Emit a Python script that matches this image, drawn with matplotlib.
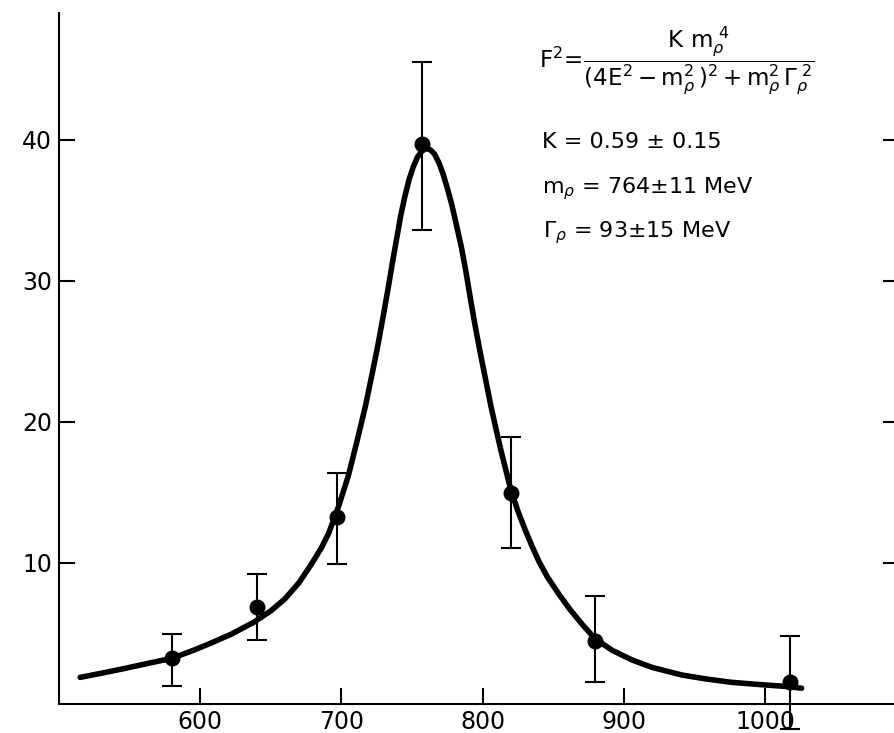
import numpy as np
import matplotlib
matplotlib.use('Agg')
import matplotlib.pyplot as plt

plt.rcParams['font.family'] = ['DejaVu Sans']
plt.rcParams['mathtext.fontset'] = 'dejavusans'

# measured points: energy (MeV), F^2, and the ends of the error bars
energy = [580, 640, 697, 757, 820, 880, 1018]
f2 = [3.24, 6.90, 13.24, 39.7, 14.94, 4.49, 1.58]
f2_low = [1.30, 4.54, 9.90, 33.6, 11.04, 1.56, -1.75]
f2_high = [4.94, 9.20, 16.40, 45.5, 18.96, 7.66, 4.82]

curve_e = [515, 530, 547, 563, 580, 595, 606, 622, 638, 650, 660, 670, 679,
           686, 691, 698, 705, 711, 717, 722, 726, 730, 733, 736, 739, 742,
           745, 748, 751, 754, 757, 760, 763, 766, 769, 772, 775, 778, 781,
           785, 788, 792, 795, 799, 803, 806, 810, 813, 816, 820, 825, 830,
           835, 840, 846, 854, 862, 871, 880, 892, 906, 920, 941, 958, 976,
           996, 1017, 1026]
curve_f2 = [1.89, 2.18, 2.53, 2.88, 3.24, 3.80, 4.25, 4.95, 5.80, 6.60, 7.45,
            8.60, 9.95, 11.1, 12.1, 14.0, 16.2, 18.6, 21.1, 23.5, 25.5, 27.7,
            29.4, 31.2, 32.9, 34.6, 36.0, 37.2, 38.1, 38.8, 39.2, 39.4, 39.3,
            39.0, 38.4, 37.6, 36.6, 35.5, 34.2, 32.4, 30.8, 28.4, 26.7, 24.6,
            22.6, 21.1, 19.3, 18.0, 16.8, 15.2, 13.7, 12.4, 11.2, 10.1, 9.0,
            7.8, 6.7, 5.6, 4.6, 3.8, 3.12, 2.6, 2.06, 1.78, 1.54, 1.38, 1.23,
            1.12]

x_ticks = [600, 700, 800, 900, 1000]
y_ticks = [10, 20, 30, 40]

fig = plt.figure(figsize=(8.94, 7.33), dpi=100)
ax = fig.add_axes([59 / 894, 29 / 733, 840 / 894, 691 / 733])

ax.plot(curve_e, curve_f2, color='black', linewidth=4.0,
        solid_capstyle='round', solid_joinstyle='round', zorder=3)

e = np.array(energy)
y = np.array(f2)
yerr = [y - np.array(f2_low), np.array(f2_high) - y]
ax.errorbar(e, y, yerr=yerr, fmt='o', color='black', markersize=10.5,
            elinewidth=1.5, capsize=7, capthick=1.5, zorder=4,
            clip_on=False)

ax.set_xlim(500, 1095)
ax.set_ylim(0, 49)
ax.set_xticks(x_ticks)
ax.set_yticks(y_ticks)
ax.tick_params(axis='both', direction='in', length=11.5, width=1.5,
               labelsize=17, pad=5)
ax.tick_params(axis='y', right=True, labelright=False)
ax.tick_params(axis='x', pad=4)

ax.spines['top'].set_visible(False)
for s in ['left', 'bottom', 'right']:
    ax.spines[s].set_linewidth(1.5)

ax.text(840, 45.6,
        r'$\mathrm{F}^{2}\!=\!\dfrac{\mathrm{K\ m}_{\rho}^{\ 4}}'
        r'{(4\mathrm{E}^{2}-\mathrm{m}_{\rho}^{2}\,)^{2}+\mathrm{m}_{\rho}^{2}\,\Gamma_{\rho}^{\ 2}}$',
        fontsize=16.5, ha='left', va='center')
ax.text(842, 39.4, 'K = 0.59 ± 0.15', fontsize=16, ha='left', va='baseline')
ax.text(842, 36.2, r'm$_{\rho}$ = 764±11 MeV', fontsize=16, ha='left',
        va='baseline')
ax.text(843, 33.1, r'$\Gamma_{\rho}$ = 93±15 MeV', fontsize=16, ha='left',
        va='baseline')

fig.savefig('out.png', dpi=100)
